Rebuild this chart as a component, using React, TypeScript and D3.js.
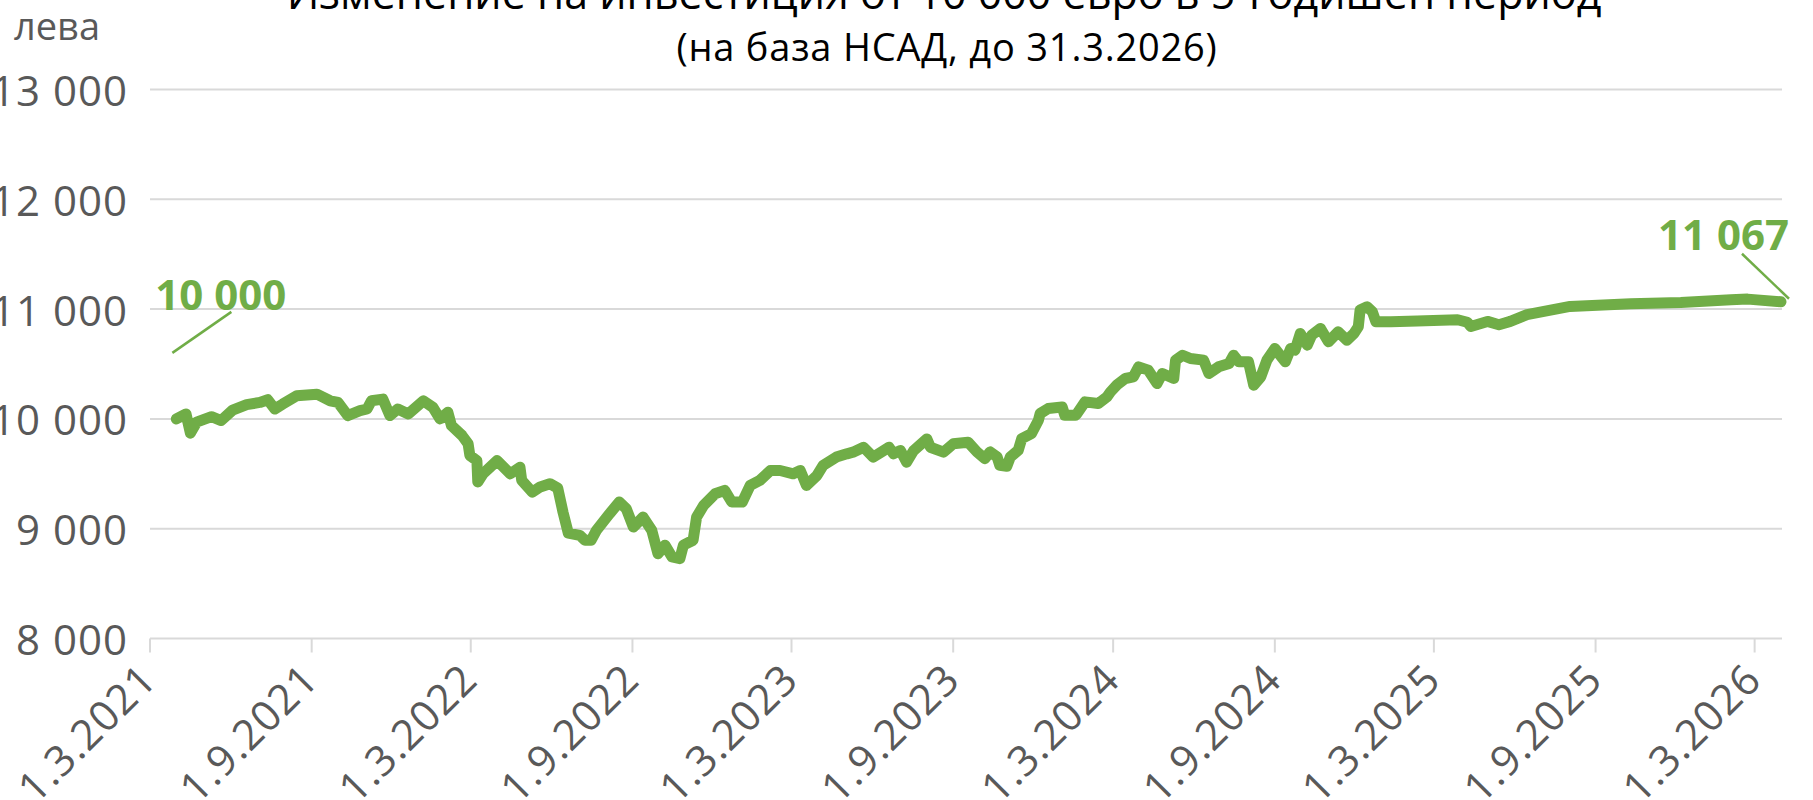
import React from "react";
import * as d3 from "d3";

const W = 1813;
const H = 800;

const title = "Изменение на инвестиция от 10 000 евро в 5-годишен период";
const subtitle = "(на база НСАД, до 31.3.2026)";
const unitLabel = "лева";

const yTicks = [8000, 9000, 10000, 11000, 12000, 13000];
const xTickDates = [
  "2021-03-01", "2021-09-01", "2022-03-01", "2022-09-01", "2023-03-01", "2023-09-01",
  "2024-03-01", "2024-09-01", "2025-03-01", "2025-09-01", "2026-03-01",
];

const dates = [
  "2021-03-31","2021-04-11","2021-04-16","2021-04-23","2021-05-10","2021-05-21","2021-06-03","2021-06-19",
  "2021-07-04","2021-07-13","2021-07-21","2021-07-30","2021-08-15","2021-09-07","2021-09-22","2021-10-01",
  "2021-10-12","2021-10-26","2021-11-03","2021-11-08","2021-11-21","2021-11-29","2021-12-08","2021-12-20",
  "2022-01-06","2022-01-17","2022-01-25","2022-02-03","2022-02-07","2022-02-19","2022-02-26","2022-02-28",
  "2022-03-08","2022-03-09","2022-03-15","2022-03-31","2022-04-15","2022-04-26","2022-04-28","2022-05-10",
  "2022-05-19","2022-05-30","2022-06-08","2022-06-14","2022-06-20","2022-07-03","2022-07-09","2022-07-16",
  "2022-07-22","2022-08-06","2022-08-17","2022-08-25","2022-09-02","2022-09-13","2022-09-23","2022-09-30",
  "2022-10-08","2022-10-16","2022-10-25","2022-10-29","2022-11-09","2022-11-13","2022-11-21","2022-12-04",
  "2022-12-15","2022-12-23","2023-01-04","2023-01-13","2023-01-24","2023-02-05","2023-02-16","2023-03-03",
  "2023-03-11","2023-03-18","2023-03-30","2023-04-06","2023-04-21","2023-05-03","2023-05-10","2023-05-22",
  "2023-06-02","2023-06-20","2023-06-25","2023-07-03","2023-07-10","2023-07-18","2023-08-02","2023-08-06",
  "2023-08-21","2023-09-01","2023-09-18","2023-09-28","2023-10-07","2023-10-13","2023-10-21","2023-10-24",
  "2023-11-01","2023-11-05","2023-11-14","2023-11-18","2023-11-29","2023-12-07","2023-12-09","2023-12-18",
  "2024-01-03","2024-01-06","2024-01-18","2024-01-20","2024-01-29","2024-02-13","2024-02-23","2024-02-27",
  "2024-03-05","2024-03-15","2024-03-24","2024-03-30","2024-04-10","2024-04-20","2024-04-26","2024-05-09",
  "2024-05-11","2024-05-19","2024-05-28","2024-06-12","2024-06-18","2024-06-29","2024-07-11","2024-07-16",
  "2024-07-22","2024-08-02","2024-08-08","2024-08-16","2024-08-23","2024-09-01","2024-09-13","2024-09-19",
  "2024-09-24","2024-09-30","2024-10-08","2024-10-13","2024-10-23","2024-11-01","2024-11-12","2024-11-22",
  "2024-11-30","2024-12-05","2024-12-07","2024-12-15","2024-12-21","2024-12-25","2025-01-11","2025-02-10",
  "2025-03-28","2025-04-08","2025-04-12","2025-05-01","2025-05-14","2025-05-27","2025-06-15","2025-08-03",
  "2025-10-11","2025-12-07","2026-02-02","2026-02-21","2026-03-31",
];

const values = [
  10000,10045,9870,9970,10020,9985,10080,10130,
  10150,10175,10090,10135,10210,10225,10165,10150,
  10030,10075,10090,10165,10180,10030,10090,10045,
  10165,10105,10000,10060,9940,9850,9773,9667,
  9620,9425,9500,9620,9500,9560,9440,9333,
  9380,9410,9370,9150,8960,8940,8895,8895,
  8985,9137,9243,9182,9015,9106,8985,8773,
  8850,8743,8727,8850,8895,9106,9212,9318,
  9349,9243,9243,9394,9440,9530,9530,9500,
  9530,9394,9485,9576,9652,9682,9697,9742,
  9652,9742,9682,9712,9606,9712,9818,9742,
  9697,9773,9788,9700,9638,9700,9653,9577,
  9568,9653,9714,9821,9866,9988,10049,10094,
  10109,10033,10033,10049,10155,10140,10200,10246,
  10307,10368,10383,10474,10444,10322,10413,10368,
  10535,10580,10550,10535,10413,10474,10505,10580,
  10520,10520,10307,10383,10535,10641,10520,10641,
  10626,10778,10672,10763,10824,10702,10793,10717,
  10778,10839,10991,11021,10976,10885,10885,10892,
  10903,10880,10842,10888,10858,10888,10949,11024,
  11048,11060,11085,11091,11067,
];

const GREEN = "#70AD47";
const GRID = "#D9D9D9";
const LABEL = "#595959";
const FONT = "'Open Sans', 'Noto Sans', sans-serif";

const parse = d3.timeParse("%Y-%m-%d");
const fmt = (v: number) => d3.format(",")(v).replace(/,/g, " ");
const fmtDate = d3.timeFormat("%-d.%-m.%Y");

export default function App() {
  const left = 150;
  const right = 1781;
  const x = d3
    .scaleTime()
    .domain([parse("2021-03-01")!, parse("2026-03-31")!])
    .range([left, right]);
  const y = d3.scaleLinear().domain([8000, 13000]).range([638.5, 89.5]);

  const pts = dates.map((d, i) => ({ d: parse(d)!, v: values[i] }));
  const line = d3
    .line<{ d: Date; v: number }>()
    .x((p) => x(p.d))
    .y((p) => y(p.v));

  const first = pts[0];
  const last = pts[pts.length - 1];
  const fx = x(first.d);
  const fy = y(first.v);
  const lx = x(last.d);
  const ly = y(last.v);

  return (
    <svg
      width={W}
      height={H}
      style={{ position: "absolute", left: 0, top: 0, background: "#fff" }}
      fontFamily={FONT}
    >
      <rect x={0} y={0} width={W} height={H} fill="#fff" />
      <text x={944} y={9} textAnchor="middle" fontSize={43} fill="#000">
        {title}
      </text>
      <text x={947} y={61} textAnchor="middle" fontSize={38} letterSpacing={0.8} fill="#000">
        {subtitle}
      </text>
      <text x={14} y={40} fontSize={38} fill={LABEL}>
        {unitLabel}
      </text>

      {yTicks.map((t) => (
        <g key={t}>
          <line x1={left} x2={right + 1} y1={y(t)} y2={y(t)} stroke={GRID} strokeWidth={2} />
          <text
            x={128}
            y={y(t)}
            textAnchor="end"
            dominantBaseline="central"
            fontSize={42}
            letterSpacing={1}
            fill={LABEL}
          >
            {fmt(t)}
          </text>
        </g>
      ))}

      {xTickDates.map((s) => {
        const d = parse(s)!;
        const tx = x(d);
        return (
          <g key={s}>
            <line x1={tx} x2={tx} y1={y(8000)} y2={y(8000) + 14} stroke={GRID} strokeWidth={2} />
            <text
              transform={`translate(${tx + 9},${682}) rotate(-45)`}
              textAnchor="end"
              fontSize={42}
              letterSpacing={1}
              fill={LABEL}
            >
              {fmtDate(d)}
            </text>
          </g>
        );
      })}

      <path
        d={line(pts) || ""}
        fill="none"
        stroke={GREEN}
        strokeWidth={11}
        strokeLinejoin="round"
        strokeLinecap="round"
      />

      <line x1={fx - 4} y1={fy - 66} x2={fx + 55} y2={fy - 107} stroke={GREEN} strokeWidth={2.5} />
      <text x={fx - 21} y={fy - 109} fontSize={42} fontWeight="bold" fill={GREEN}>
        {fmt(first.v)}
      </text>
      <line x1={lx - 39} y1={ly - 48} x2={lx + 8} y2={ly - 3} stroke={GREEN} strokeWidth={2.5} />
      <text x={lx + 8} y={ly - 52} textAnchor="end" fontSize={42} fontWeight="bold" fill={GREEN}>
        {fmt(last.v)}
      </text>
    </svg>
  );
}
